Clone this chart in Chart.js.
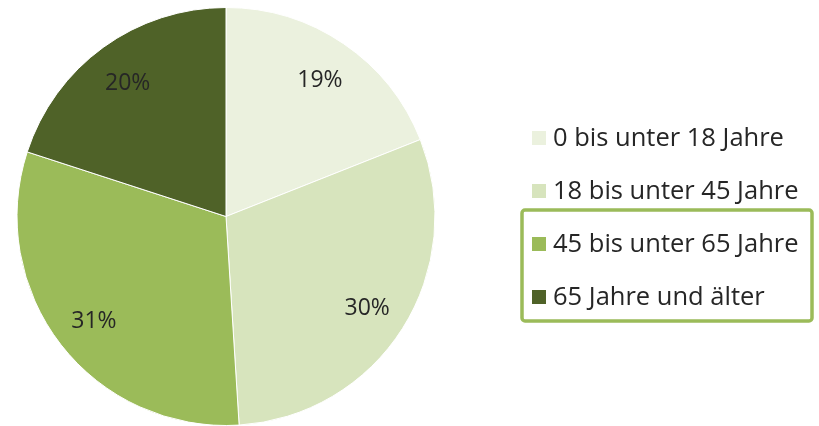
<!DOCTYPE html>
<html><head><meta charset="utf-8">
<script src="https://cdn.jsdelivr.net/npm/chart.js@4"></script>
<style>html,body{margin:0;padding:0;background:#fff}#wrap{width:819px;height:426px}</style>
</head><body><div id="wrap"><canvas id="c" width="819" height="426"></canvas></div>
<script>
const categories = ["0 bis unter 18 Jahre", "18 bis unter 45 Jahre", "45 bis unter 65 Jahre", "65 Jahre und älter"];
const shares = [19, 30, 31, 20];
const percentLabels = ["19%", "30%", "31%", "20%"];
const colors = ["#EBF1DE", "#D7E4BD", "#9BBB59", "#4F6228"];
const highlighted = [2, 3];

const LABEL_FONT = '23px "Open Sans", "Liberation Sans", sans-serif';
const LEGEND_FONT = '25.5px "Open Sans", "Liberation Sans", sans-serif';

const labelPlugin = {
  id: 'labels',
  afterDatasetsDraw(chart) {
    const ctx = chart.ctx;
    const meta = chart.getDatasetMeta(0);
    ctx.save();
    ctx.font = LABEL_FONT;
    ctx.fillStyle = '#262626';
    ctx.textAlign = 'center';
    ctx.textBaseline = 'middle';
    meta.data.forEach((arc, i) => {
      const p = arc.getProps(['x','y','startAngle','endAngle','outerRadius'], true);
      const mid = (p.startAngle + p.endAngle) / 2;
      const r = p.outerRadius * 0.8;
      ctx.fillText(percentLabels[i], p.x + Math.cos(mid) * r, p.y + Math.sin(mid) * r + 2);
    });
    ctx.restore();
  },
  afterDraw(chart) {
    const ctx = chart.ctx;
    ctx.save();
    const x0 = 532, y0 = 138, step = 53, box = 14;
    ctx.font = LEGEND_FONT;
    ctx.textBaseline = 'middle';
    ctx.textAlign = 'left';
    categories.forEach((c, i) => {
      const y = y0 + i * step;
      ctx.fillStyle = colors[i];
      ctx.fillRect(x0, y - box / 2, box, box);
      ctx.fillStyle = '#262626';
      ctx.fillText(c, x0 + 21, y + 1);
    });
    const top = y0 + highlighted[0] * step - 34, bottom = y0 + highlighted[1] * step + 24;
    ctx.strokeStyle = '#9BBB59';
    ctx.lineWidth = 3.5;
    ctx.beginPath();
    ctx.roundRect(522, top, 290, bottom - top, 3);
    ctx.stroke();
    ctx.restore();
  }
};

new Chart(document.getElementById('c'), {
  type: 'pie',
  data: {
    labels: categories,
    datasets: [{ data: shares, backgroundColor: colors, borderColor: '#ffffff', borderWidth: 1 }]
  },
  options: {
    responsive: false,
    animation: false,
    layout: { padding: { left: 16, right: 383, top: 7, bottom: 0 } },
    plugins: { legend: { display: false }, tooltip: { enabled: false } }
  },
  plugins: [labelPlugin]
});
</script></body></html>
